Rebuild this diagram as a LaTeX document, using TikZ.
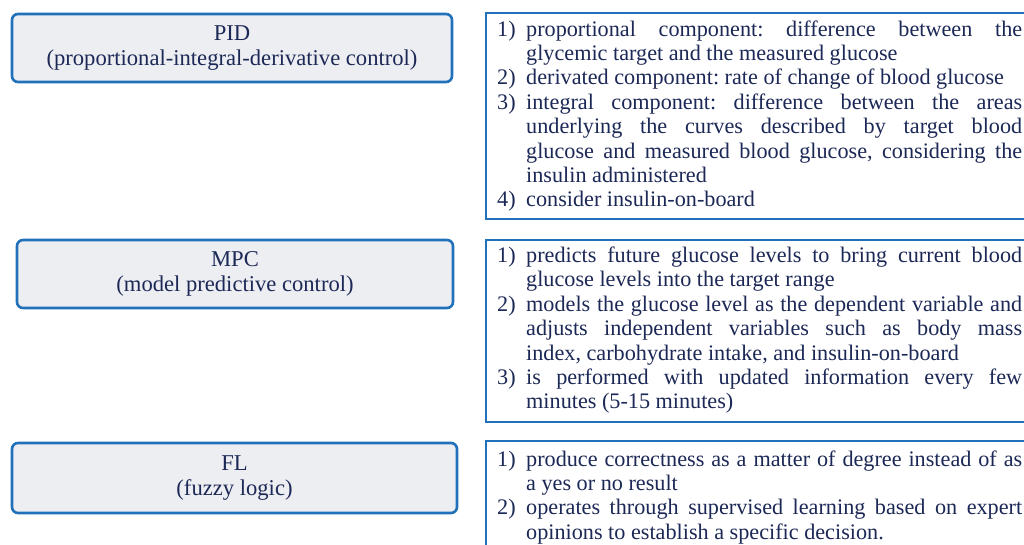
\documentclass[tikz,border=0pt]{standalone}
\usepackage{fontspec}
\setmainfont{Liberation Serif}
\frenchspacing
\definecolor{navy}{RGB}{28,40,86}
\definecolor{bordblue}{RGB}{32,112,186}
\definecolor{boxgray}{RGB}{237,238,242}
\newcommand{\fullrow}[2]{\noindent\makebox[29pt][l]{#1}\makebox[496pt][s]{#2}\par}
\newcommand{\lastrow}[2]{\noindent\makebox[29pt][l]{#1}#2\par}
\newcommand{\listfont}{\fontsize{22.2}{24.4}\selectfont\spaceskip=0.25em plus 1em minus 0.12em\relax}
\tikzset{
  method/.style={draw=bordblue, line width=2.6pt, fill=boxgray, rounded corners=6pt,
    align=center, text=navy, font=\fontsize{22.6}{24.4}\selectfont, inner sep=0pt},
  detail/.style={draw=bordblue, line width=2.8pt, fill=white},
  listtext/.style={anchor=base west, inner sep=0pt, text=navy}
}
\begin{document}
\begin{tikzpicture}[x=1pt,y=-1pt]
\useasboundingbox (0,0) rectangle (1024,544);
\clip (0,0) rectangle (1024,544);
\fill[white] (0,0) rectangle (1024,544);

% left boxes
\node[method, minimum width=440pt, minimum height=68pt] (pid) at (232,48)
  {\raisebox{2pt}{PID}\\\raisebox{2pt}{(proportional-integral-derivative control)}};
\node[method, minimum width=436pt, minimum height=68pt] (mpc) at (235,274)
  {\raisebox{2pt}{MPC}\\\raisebox{2pt}{(model predictive control)}};
\node[method, minimum width=445pt, minimum height=70pt] (fl) at (234.5,478)
  {\raisebox{2pt}{FL}\\\raisebox{2pt}{(fuzzy logic)}};

% right boxes
\draw[detail] (486,13) rectangle (1040,219);
\draw[detail] (486,240) rectangle (1040,422);
\draw[detail] (486,441) rectangle (1040,560);

\node[listtext] (pidlist) at (497,36) {\parbox[t]{530pt}{\listfont
\fullrow{1)}{proportional component: difference between the}
\lastrow{}{glycemic target and the measured glucose}
\lastrow{2)}{derivated component: rate of change of blood glucose}
\fullrow{3)}{integral component: difference between the areas}
\fullrow{}{underlying the curves described by target blood}
\fullrow{}{glucose and measured blood glucose, considering the}
\lastrow{}{insulin administered}
\lastrow{4)}{consider insulin-on-board}}};

\node[listtext] (mpclist) at (497,262.5) {\parbox[t]{530pt}{\listfont
\fullrow{1)}{predicts future glucose levels to bring current blood}
\lastrow{}{glucose levels into the target range}
\fullrow{2)}{models the glucose level as the dependent variable and}
\fullrow{}{adjusts independent variables such as body mass}
\lastrow{}{index, carbohydrate intake, and insulin-on-board}
\fullrow{3)}{is performed with updated information every few}
\lastrow{}{minutes (5-15 minutes)}}};

\node[listtext] (fllist) at (497,466) {\parbox[t]{530pt}{\listfont
\fullrow{1)}{produce correctness as a matter of degree instead of as}
\lastrow{}{a yes or no result}
\fullrow{2)}{operates through supervised learning based on expert}
\lastrow{}{opinions to establish a specific decision.}}};
\end{tikzpicture}
\end{document}
